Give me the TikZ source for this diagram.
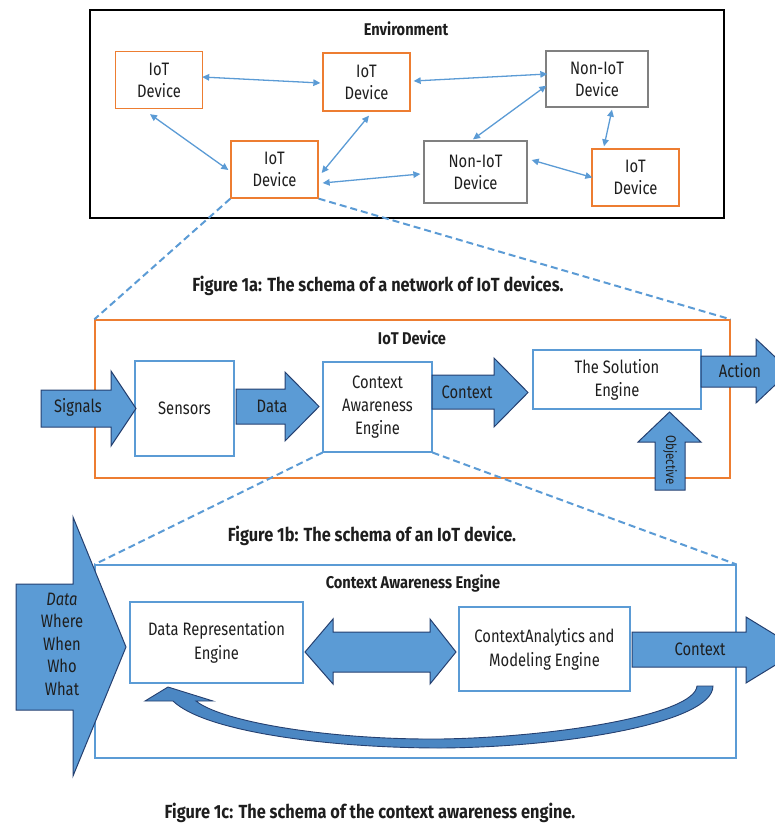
\documentclass[tikz,border=0pt]{standalone}
\usepackage{fontspec}
\setmainfont{Fira Sans}[FakeStretch=0.82, BoldFeatures={FakeStretch=0.86}]
\usetikzlibrary{arrows.meta,calc}
\definecolor{orng}{RGB}{237,125,49}
\definecolor{gry}{RGB}{128,128,128}
\definecolor{lblue}{RGB}{91,155,213}
\definecolor{abl}{RGB}{91,155,213}
\definecolor{adark}{RGB}{37,64,112}
\definecolor{curvebl}{RGB}{75,135,195}
\definecolor{txt}{RGB}{30,30,30}
\begin{document}
\begin{tikzpicture}[x=1pt,y=-1pt,
  every node/.style={text=txt},
  body/.style={font=\fontsize{18}{22}\selectfont, align=center, inner sep=0pt},
  iotbox/.style={body, draw=orng, line width=1.3pt, fill=white, minimum width=87pt, minimum height=57pt},
  nonbox/.style={body, draw=gry, line width=1.3pt, fill=white, minimum width=102pt, minimum height=57pt},
  lbbox/.style={body, draw=lblue, line width=1.1pt, fill=white},
  conn/.style={lblue, line width=1.3pt, {Triangle[length=7pt,width=6.5pt]}-{Triangle[length=7pt,width=6.5pt]}},
  dashln/.style={lblue, line width=2pt, dash pattern=on 7pt off 4pt},
  fat/.style={fill=abl, draw=adark, line width=1pt, line join=miter},
  captext/.style={font=\bfseries\fontsize{19}{22}\selectfont, inner sep=0pt},
  ttl/.style={font=\bfseries\fontsize{17}{20}\selectfont, inner sep=0pt}]
\useasboundingbox (0,0) rectangle (775,825);
\clip (0,0) rectangle (775,825);

% ---------- Figure 1a ----------
\node[draw=black, line width=1.2pt, minimum width=634pt, minimum height=208pt, inner sep=0pt] (env) at (407,114) {};
\node[ttl] (envt) at (406,29) {Environment};
\node[iotbox] (iot1) at (159,80) {IoT\\Device};
\node[iotbox, minimum height=58pt] (iot2) at (366.5,82) {IoT\\Device};
\node[nonbox, minimum height=56pt] (non1) at (597,79) {Non-IoT\\Device};
\node[iotbox] (iot3) at (274.5,169.5) {IoT\\Device};
\node[nonbox, minimum width=103pt, minimum height=62pt] (non2) at (475.5,172) {Non-IoT\\Device};
\node[iotbox] (iot4) at (635.5,177.5) {IoT\\Device};

\draw[conn] ($(iot1.east)+(-1,-3)$) -- ($(iot2.west)+(-2,1)$);
\draw[conn] ($(iot2.east)+(3,-1)$) -- ($(non1.west)+(2,-5)$);
\draw[conn] ($(iot1.south)+(-9,5)$) -- ($(iot3.west)+(-2,0.5)$);
\draw[conn] ($(iot2.south)+(2.5,4)$) -- ($(iot3.east)+(3,3.5)$);
\draw[conn] ($(non1.south west)+(1,-22)$) -- ($(non2.north)+(-2.5,-1)$);
\draw[conn] ($(non1.south)+(15,2)$) -- ($(iot4.north)+(-31.5,-2)$);
\draw[conn] ($(iot3.east)+(4,13.5)$) -- ($(non2.west)+(-3,2)$);
\draw[conn] ($(non2.east)+(4,-12)$) -- ($(iot4.west)+(1,0)$);

\node[captext] (capa) at (378,286) {Figure 1a: The schema of a network of IoT devices.};

% ---------- Figure 1b ----------
\node[draw=orng, line width=1.3pt, minimum width=635pt, minimum height=158pt, inner sep=0pt] (dev) at (412.5,399) {};
\draw[dashln] (iot3.south west) -- (dev.north west);
\draw[dashln] (iot3.south east) -- (dev.north east);
\node[ttl] (devt) at (412,338) {IoT Device};

\node[lbbox, minimum width=99pt, minimum height=95pt] (sens) at (184.5,408.5) {Sensors};
\node[lbbox, minimum width=109pt, minimum height=90pt, font=\fontsize{18}{23}\selectfont] (cae) at (377.5,407) {Context\\Awareness\\Engine};
\node[lbbox, minimum width=168pt, minimum height=59pt, font=\fontsize{18}{23}\selectfont] (sol) at (617,379.5) {The Solution\\Engine};

\draw[fat] (41,390) -- (111,390) -- (111,371) -- (136,408.5) -- (111,446) -- (111,427) -- (41,427) -- cycle;
\node[body] (sig) at (78,407) {Signals};
\draw[fat] (236,389) -- (285,389) -- (285,372) -- (319,406.5) -- (285,441) -- (285,424) -- (236,424) -- cycle;
\node[body] (dat) at (272,406) {Data};
\draw[fat] (432,375) -- (494,375) -- (494,358) -- (528,392.5) -- (494,427) -- (494,409) -- (432,409) -- cycle;
\node[body] (ctx) at (467,392) {Context};
\draw[fat] (701,356) -- (756,356) -- (756,339) -- (790,371) -- (756,403) -- (756,387) -- (701,387) -- cycle;
\node[body] (act) at (740,371) {Action};
\draw[fat] (655,490) -- (655,442) -- (638,442) -- (669.5,412) -- (701,442) -- (685,442) -- (685,490) -- cycle;
\node[body, font=\fontsize{14}{16}\selectfont, rotate=-90] (obj) at (670,460) {Objective};

\node[captext] (capb) at (372,536) {Figure 1b: The schema of an IoT device.};

% ---------- Figure 1c ----------
\node[draw=lblue, line width=1.1pt, minimum width=641pt, minimum height=193pt, inner sep=0pt] (cab) at (415.5,661.5) {};
\draw[dashln] (cae.south west) -- (cab.north west);
\draw[dashln] (cae.south east) -- (cab.north east);
\node[ttl] (cabt) at (413,583) {Context Awareness Engine};

\node[lbbox, minimum width=173pt, minimum height=81pt, font=\fontsize{18}{24}\selectfont] (dre) at (216.5,642.5) {Data Representation\\Engine};
\node[lbbox, minimum width=171pt, minimum height=84pt, font=\fontsize{18}{24}\selectfont] (cam) at (544.5,649) {ContextAnalytics and\\Modeling Engine};

\draw[fat] (16,584) -- (73,584) -- (73,517) -- (126,647) -- (73,776) -- (73,710) -- (16,710) -- cycle;
\node[body, font=\fontsize{18}{22.5}\selectfont] (inp) at (62,644) {\textit{Data}\\Where\\When\\Who\\What};

\draw[fat] (305,652) -- (333,619) -- (333,632) -- (430,632) -- (430,619) -- (456,652) -- (430,684) -- (430,672) -- (333,672) -- (333,684) -- cycle;

\draw[fat] (632,632) -- (746,632) -- (746,617) -- (800,650) -- (746,683) -- (746,667) -- (632,667) -- cycle;
\node[body] (ctx2) at (700,649) {Context};

\draw[fill=curvebl, draw=adark, line width=0.9pt, line join=miter]
  (697,686) .. controls (695,714) and (560,737) .. (441,739)
  .. controls (330,740) and (222,722) .. (196,701)
  -- (213,701) -- (168,687) -- (145,701) -- (173,701)
  .. controls (205,732) and (330,748) .. (441,748)
  .. controls (570,747) and (713,722) .. (713,686) -- cycle;

\node[captext] (capc) at (370,813) {Figure 1c: The schema of the context awareness engine.};
\end{tikzpicture}
\end{document}
